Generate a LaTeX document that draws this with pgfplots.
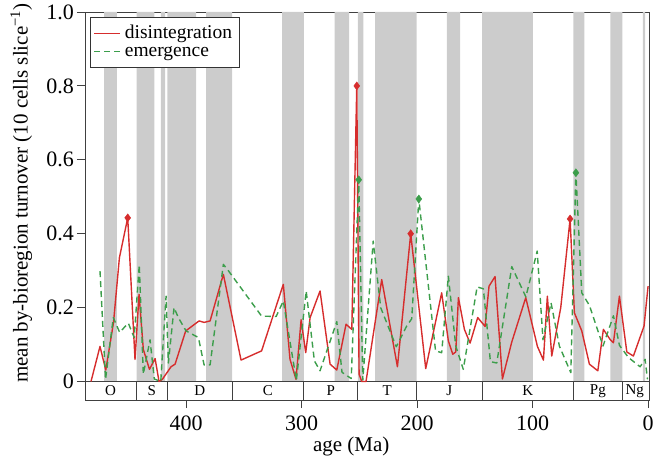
\documentclass[border=0pt]{standalone}
\usepackage{fontspec}
\setmainfont{Liberation Serif}
\usepackage{pgfplots}
\usepackage{pgfplotstable}
\pgfplotsset{compat=1.18}
\definecolor{dred}{RGB}{214,45,45}
\definecolor{dgreen}{RGB}{60,158,75}
\definecolor{bandgrey}{RGB}{204,204,204}
\newcommand\band[2]{\addplot[fill=bandgrey, draw=none, forget plot] coordinates {(#1,0) (#1,1) (#2,1) (#2,0)} \closedcycle;}
\newcommand\divider[1]{\addplot[black!75, line width=0.8pt, forget plot] coordinates {(#1,0) (#1,-0.05)};}

\pgfplotstableread{
age val
482.3 0
474.5 0.095
469.5 0.031
462.8 0.16
457.7 0.335
450.5 0.443
444.2 0.06
440.7 0.236
437 0.087
431.7 0.033
426.8 0.062
423.4 0.0
420.5 0.006
413 0.04
409.5 0.047
400.3 0.137
388.7 0.164
384.4 0.16
379.2 0.164
367.7 0.29
352.4 0.058
334.6 0.083
315.8 0.263
310 0.06
304.8 0.006
300.4 0.167
296.4 0.078
292.6 0.173
284 0.245
275.3 0.047
269.5 0.031
261.5 0.155
256.5 0.141
252.2 0.80
250.2 0.02
247.9 0.0
244.2 0.0
230.6 0.276
217 0.04
205.5 0.40
192.5 0.035
178.7 0.24
172.9 0.11
169.1 0.074
166.5 0.08
164.2 0.227
159 0.141
154.1 0.104
147.5 0.173
141.1 0.149
137.7 0.258
132.5 0.284
126.1 0.007
118 0.107
105.9 0.227
95.8 0.095
90.6 0.058
87.2 0.231
83.4 0.069
75.6 0.2
67.5 0.44
63.8 0.186
57.4 0.137
50.8 0.047
43.5 0.029
38.7 0.141
32.9 0.114
30 0.105
24.8 0.231
18.4 0.08
12.7 0.069
3.5 0.15
0 0.258
}\disint

\pgfplotstableread{
age val
474.5 0.299
469.7 0.006
463 0.173
457.5 0.133
450 0.158
444.9 0.119
440.5 0.316
437 0.02
431.2 0.113
427.5 0.007
421.9 0.0
417.3 0.231
415.3 0.05
410.4 0.2
406.7 0.173
400 0.137
389.3 0.119
384.4 0.045
379.2 0.045
367.7 0.317
363.4 0.3
334.6 0.177
322 0.176
315.8 0.218
304.5 0.003
296 0.245
288.9 0.056
284 0.029
269.5 0.162
265 0.025
257 0.008
250.5 0.546
247 0.004
238 0.38
231.5 0.2
218 0.094
209 0.15
204.6 0.17
198.5 0.494
184 0.083
178.7 0.078
172.9 0.285
166.5 0.096
160 0.033
148 0.256
142.6 0.251
136.5 0.054
131 0.05
118 0.311
105.8 0.229
96 0.353
91 0.113
84 0.213
76.8 0.096
66.9 0.024
62.5 0.565
57.4 0.24
50.8 0.206
39 0.096
30 0.178
24.8 0.098
17 0.065
6.9 0.04
2.6 0.06
0.5 0.006
}\emerg

\begin{document}
\begin{tikzpicture}
\path[use as bounding box] (-85pt,-62pt) rectangle (570pt,400pt);
\begin{axis}[
  at={(0pt,0pt)}, anchor=south west,
  scale only axis, width=564pt, height=388pt,
  x dir=reverse, xmin=-0.8, xmax=487.5, ymin=-0.05, ymax=1,
  axis line style={black!75, line width=0.8pt},
  /pgf/number format/assume math mode=true,
  xtick={0,100,200,300,400}, xticklabels={0,100,200,300,400},
  ytick={0,0.2,0.4,0.6,0.8,1}, yticklabels={0,0.2,0.4,0.6,0.8,1.0},
  xtick pos=bottom, ytick pos=left, tick align=outside,
  major tick length=8pt,
  tick style={black!75, line width=0.8pt},
  ticklabel style={font=\fontsize{22}{22}\selectfont},
  xticklabel style={yshift=-4pt},
  yticklabel style={inner xsep=3pt},
  xlabel={age (Ma)},
  ylabel={mean by-bioregion turnover (10 cells slice\textsuperscript{−1})},
  label style={font=\fontsize{21}{21}\selectfont},
  xlabel style={at={(axis description cs:0.472,-0.121)}, anchor=center},
  ylabel style={at={(axis description cs:-0.113,0.533)}, anchor=center},
  legend style={at={(axis description cs:0.009,0.987)}, anchor=north west,
    draw=black!80, line width=0.8pt, font=\fontsize{19.5}{19.5}\selectfont,
    nodes={inner ysep=0pt, inner xsep=4pt, text height=14pt, text depth=4pt},
    inner xsep=3pt, inner ysep=7pt},
  legend cell align=left,
  legend image code/.code={\draw[#1, line width=1.4pt] (0pt,0pt) -- (26pt,0pt);},
]
\band{471.0}{460.0}
\band{442.7}{427.4}
\band{421.9}{418.2}
\band{416.2}{391.3}
\band{382.7}{360.2}
\band{316.9}{298.1}
\band{271.3}{258.9}
\band{251.3}{246.5}
\band{236.4}{200.3}
\band{174.3}{162.8}
\band{143.7}{99.8}
\band{64.7}{55.2}
\band{32.6}{22.3}
\band{4.6}{2.6}

\addplot[black!75, line width=0.8pt, forget plot] coordinates {(487.5,0) (-0.8,0)};
\divider{443}
\divider{416.2}
\divider{360.2}
\divider{298.1}
\divider{251.3}
\divider{200.3}
\divider{143.7}
\divider{64.7}
\divider{22.3}

\addplot[dred, line width=1.4pt, line join=round] table[x=age, y=val] {\disint};
\addlegendentry{disintegration}
\addplot[dgreen, line width=1.4pt, line join=round, dash pattern=on 6pt off 4pt] table[x=age, y=val] {\emerg};
\addlegendentry{emergence}

\addplot[only marks, mark=diamond*, mark size=4pt, dred, forget plot] coordinates {(450.5,0.443) (252.2,0.80) (205.5,0.40) (67.5,0.44)};
\addplot[only marks, mark=diamond*, mark size=4pt, dgreen, forget plot] coordinates {(250.5,0.546) (198.5,0.494) (62.5,0.565)};

\begin{scope}[font=\fontsize{15}{15}\selectfont]
\node at (axis cs:465.3,-0.025) {O};
\node at (axis cs:429.6,-0.025) {S};
\node at (axis cs:388.2,-0.025) {D};
\node at (axis cs:329.2,-0.025) {C};
\node at (axis cs:274.7,-0.025) {P};
\node at (axis cs:225.8,-0.025) {T};
\node at (axis cs:172.0,-0.025) {J};
\node at (axis cs:104.2,-0.025) {K};
\node at (axis cs:43.5,-0.025) {Pg};
\node at (axis cs:11.5,-0.025) {Ng};
\end{scope}
\end{axis}
\end{tikzpicture}
\end{document}
